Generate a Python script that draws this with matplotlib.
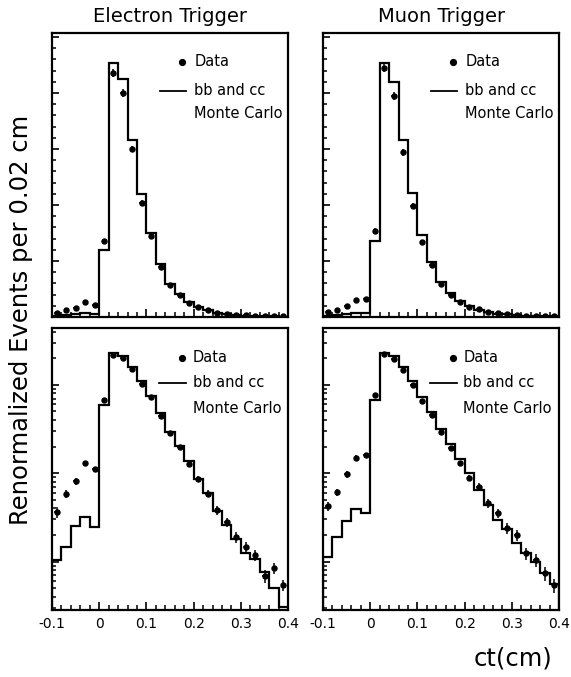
import numpy as np
import matplotlib
matplotlib.use("Agg")
import matplotlib.pyplot as plt
from matplotlib.ticker import MultipleLocator, LogLocator, NullFormatter

# ct bins: 25 bins of 0.02 cm from -0.1 to 0.4
bin_lo, bin_hi, n_bins = -0.1, 0.4, 25

titles = ["Electron Trigger", "Muon Trigger"]

# Normalized event counts per 0.02 cm bin
electron_data = [3.6, 5.8, 8.1, 13.0, 11.1, 68.0, 218.0, 200.0, 150.0, 102.0,
                 72.0, 45.0, 28.5, 20.0, 12.8, 8.7, 5.9, 3.8, 2.8, 1.9,
                 1.48, 1.19, 0.69, 0.85, 0.54]
electron_err = [0.5, 0.6, 0.7, 0.9, 0.8, 2.0, 3.6, 3.5, 3.0, 2.5,
                2.1, 1.6, 1.3, 1.1, 0.9, 0.7, 0.55, 0.45, 0.35, 0.28,
                0.2, 0.17, 0.11, 0.12, 0.08]
electron_mc = [1.05, 1.48, 2.54, 3.23, 2.45, 59.5, 227.0, 212.0, 158.0, 110.0,
               75.0, 47.5, 29.0, 20.4, 13.6, 8.6, 6.0, 3.75, 2.6, 1.8,
               1.25, 1.07, 0.77, 0.51, 0.31]

muon_data = [4.27, 6.1, 9.75, 15.0, 16.1, 77.0, 222.0, 197.0, 147.0, 99.0,
             66.5, 46.0, 29.5, 19.5, 13.0, 8.9, 7.07, 4.58, 3.56, 2.39,
             2.0, 1.24, 1.05, 0.74, 0.54]
muon_err = [0.5, 0.6, 0.8, 1.0, 1.0, 2.2, 3.6, 3.4, 3.0, 2.4,
            2.0, 1.6, 1.3, 1.1, 0.9, 0.75, 0.65, 0.5, 0.42, 0.33,
            0.28, 0.2, 0.18, 0.13, 0.1]
muon_mc = [1.14, 1.92, 2.87, 3.9, 3.59, 67.8, 227.0, 210.0, 158.0, 111.0,
           73.5, 49.0, 31.5, 21.5, 14.5, 10.0, 6.5, 4.38, 2.97, 2.33,
           1.62, 1.24, 0.98, 0.74, 0.56]

xtick_vals = [-0.1, 0.0, 0.1, 0.2, 0.3, 0.4]
xtick_labels = ["-0.1", "0", "0.1", "0.2", "0.3", "0.4"]

edges = np.linspace(bin_lo, bin_hi, n_bins + 1)
centers = 0.5 * (edges[:-1] + edges[1:])

plt.rcParams["font.family"] = ["DejaVu Sans"]
plt.rcParams["xtick.minor.visible"] = True
plt.rcParams["ytick.minor.visible"] = True

fig = plt.figure(figsize=(5.71, 6.77), dpi=100)

col_left = [0.0911, 0.5657]
col_width = 0.4135
top_row = (0.5318, 0.4195)
bot_row = (0.0990, 0.4165)

series = [(electron_data, electron_err, electron_mc),
          (muon_data, muon_err, muon_mc)]


def style_axes(ax, log):
    for sp in ax.spines.values():
        sp.set_linewidth(1.6)
    ax.set_xlim(bin_lo, bin_hi)
    if log:
        ax.set_yscale("log")
        ax.set_ylim(0.284, 440)
        ax.yaxis.set_major_locator(LogLocator(base=10.0, numticks=20))
        ax.yaxis.set_minor_locator(LogLocator(base=10.0, subs=(2, 3, 4, 5, 6, 7, 8, 9),
                                              numticks=20))
    else:
        ax.set_ylim(0, 253.5)
        ax.yaxis.set_major_locator(MultipleLocator(50))
        ax.yaxis.set_minor_locator(MultipleLocator(10))
    ax.xaxis.set_major_locator(MultipleLocator(0.1))
    ax.xaxis.set_minor_locator(MultipleLocator(0.02))
    ax.yaxis.set_major_formatter(NullFormatter())
    ax.yaxis.set_minor_formatter(NullFormatter())
    ax.tick_params(which="both", direction="in", top=False, right=False,
                   colors="black")
    ax.tick_params(axis="x", which="major", length=6, width=1.2)
    ax.tick_params(axis="x", which="minor", length=3.5, width=1.1)
    ax.tick_params(axis="y", which="major", length=5, width=1.2)
    ax.tick_params(axis="y", which="minor", length=3, width=1.1)


def draw_key(ax, line_x0, line_x1, dot_x, text_x, ys):
    ax.plot([dot_x], [ys[0]], "o", color="black", ms=4.2, transform=ax.transAxes,
            clip_on=False)
    ax.text(text_x, ys[0], "Data", transform=ax.transAxes, fontsize=10.5,
            va="center", ha="left")
    ax.plot([line_x0, line_x1], [ys[1], ys[1]], color="black", lw=1.3,
            transform=ax.transAxes, clip_on=False)
    ax.text(text_x, ys[1], "bb and cc", transform=ax.transAxes, fontsize=10.5,
            va="center", ha="left")
    ax.text(text_x, ys[2], "Monte Carlo", transform=ax.transAxes, fontsize=10.5,
            va="center", ha="left")


for col in range(2):
    data, err, mc = series[col]
    for row, (bottom, height) in enumerate([top_row, bot_row]):
        log = row == 1
        ax = fig.add_axes([col_left[col], bottom, col_width, height])
        ax.stairs(mc, edges, baseline=(1e-3 if log else 0), color="black",
                  lw=1.6)
        ax.errorbar(centers, data, yerr=err, xerr=0.005, fmt="o", color="black",
                    ms=3.6, elinewidth=1.1, capsize=0)
        style_axes(ax, log)
        if row == 0:
            ax.set_xticklabels([])
            ax.set_title(titles[col], fontsize=14, pad=8)
            draw_key(ax, 0.458, 0.566, 0.55, 0.603, (0.898, 0.797, 0.718))
        else:
            ax.set_xticks(xtick_vals)
            ax.set_xticklabels(xtick_labels, fontsize=10)
            ax.xaxis.set_minor_locator(MultipleLocator(0.02))
            ax.tick_params(axis="x", pad=5)
            draw_key(ax, 0.455, 0.566, 0.55, 0.595, (0.894, 0.805, 0.716))

fig.text(0.037, 0.527, "Renormalized Events per 0.02 cm", rotation=90,
         fontsize=17.5, ha="center", va="center")
fig.text(0.898, 0.028, "ct(cm)", fontsize=17.5, ha="center", va="center")

fig.savefig("out.png", dpi=100)
